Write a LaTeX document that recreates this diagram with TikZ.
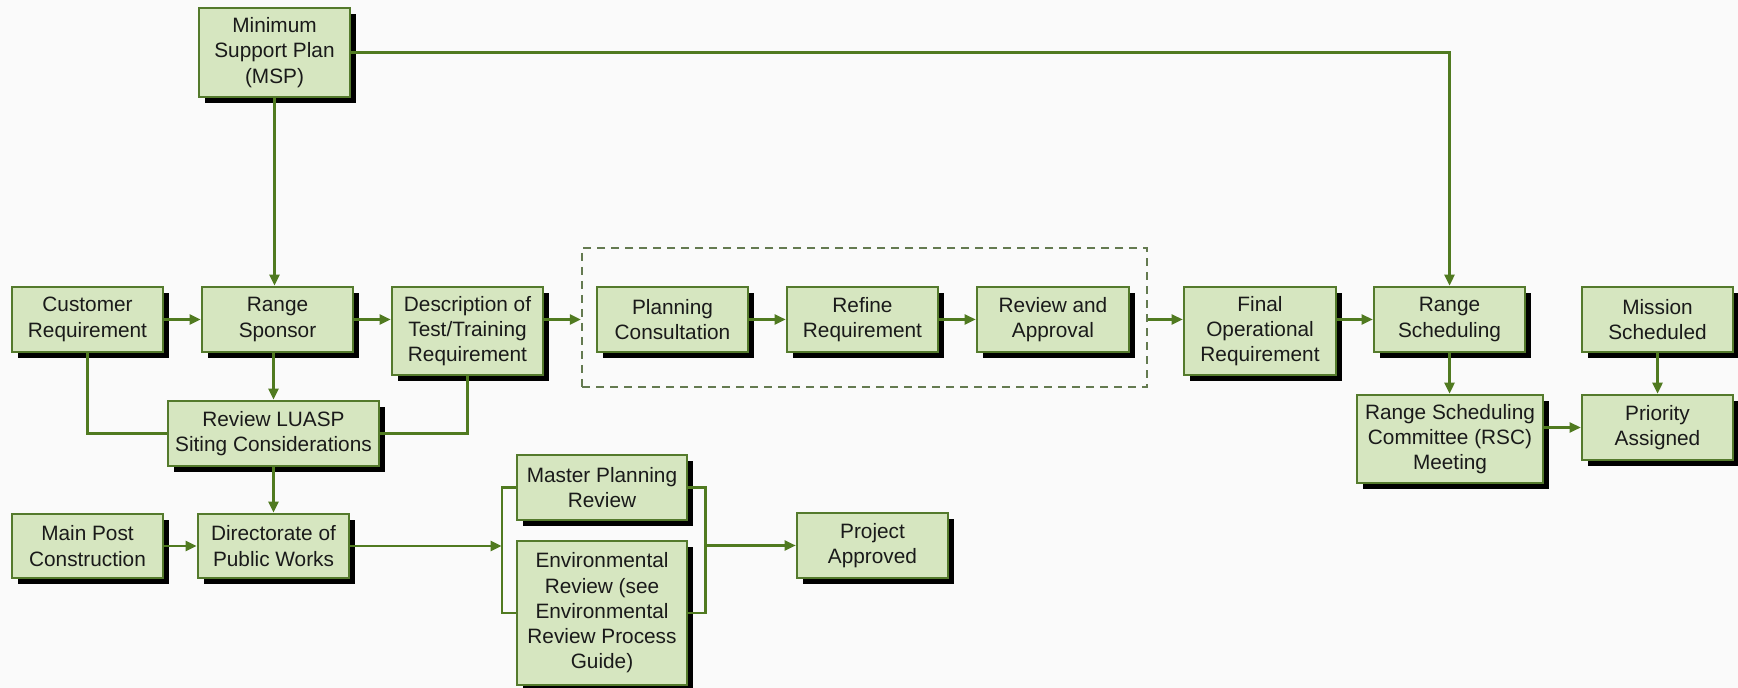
\documentclass[tikz,border=0pt]{standalone}
\usepackage{fontspec}
\setmainfont{Liberation Sans}
\usetikzlibrary{fit,shadows,calc,arrows.meta}
\definecolor{boxfill}{RGB}{214,230,192}
\definecolor{boxline}{RGB}{84,122,44}
\definecolor{wire}{RGB}{80,122,32}
\definecolor{dashline}{RGB}{100,122,80}
\definecolor{paper}{RGB}{250,250,250}
\definecolor{ink}{RGB}{26,26,26}
\tikzset{
  stepbox/.style={draw=boxline, line width=1.3pt, fill=boxfill, inner sep=0pt,
    align=center, text=ink, font=\fontsize{10.4}{12.6}\selectfont,
    drop shadow={shadow xshift=3pt, shadow yshift=-3pt, fill=black, opacity=1}},
  groupbox/.style={draw=dashline, line width=1.1pt, dash pattern=on 4pt off 3pt, inner sep=0pt},
  link/.style={draw=wire, line width=1.2pt},
  flow/.style={link, -{Triangle[length=5.5pt,width=5pt]}}
}
% a step box given by its corners in pixel units (y downwards)
\newcommand\stepnode[6]{%
  \pgfmathsetmacro\stepw{(#4-#2)*0.5}%
  \pgfmathsetmacro\steph{(#5-#3)*0.5}%
  \node[stepbox, minimum width=\stepw pt, minimum height=\steph pt]
    (#1) at ({(#2+#4)/2},{(#3+#5)/2}) {#6};}
\begin{document}
\begin{tikzpicture}[x=0.5pt, y=-0.5pt]
  % canvas
  \fill[paper] (0,0) rectangle (1738,688);
  \useasboundingbox (0,0) rectangle (1738,688);

  % grouping frame around the planning steps
  \node[groupbox, fit={(582,248) (1147,387)}] (grp) {};

  % process steps
  \stepnode{msp}{199}{8}{350}{97}{Minimum\\Support Plan\\(MSP)}
  \stepnode{cust}{12}{287}{163}{352}{Customer\\Requirement}
  \stepnode{rs}{202}{287}{353}{352}{Range\\Sponsor}
  \stepnode{desc}{392}{287}{543}{375}{Description of\\Test/Training\\Requirement}
  \stepnode{plan}{597}{287}{748}{352}{Planning\\Consultation}
  \stepnode{refine}{787}{287}{938}{352}{Refine\\Requirement}
  \stepnode{rev}{977}{287}{1129}{352}{Review and\\Approval}
  \stepnode{fin}{1184}{287}{1336}{375}{Final\\Operational\\Requirement}
  \stepnode{rsch}{1374}{287}{1525}{352}{Range\\Scheduling}
  \stepnode{miss}{1582}{287}{1733}{352}{Mission\\Scheduled}
  \stepnode{luasp}{168}{401}{379}{466}{Review LUASP\\Siting Considerations}
  \stepnode{rsc}{1357}{395}{1543}{483}{Range Scheduling\\Committee (RSC)\\Meeting}
  \stepnode{pri}{1582}{395}{1733}{460}{Priority\\Assigned}
  \stepnode{mpc}{12}{514}{163}{578}{Main Post\\Construction}
  \stepnode{dpw}{198}{514}{349}{578}{Directorate of\\Public Works}
  \stepnode{mpr}{517}{455}{687}{520}{Master Planning\\Review}
  \stepnode{env}{517}{541}{687}{685}{Environmental\\Review (see\\Environmental\\Review Process\\Guide)}
  \stepnode{prj}{797}{513}{948}{578}{Project\\Approved}

  % bracket ends around the two parallel reviews
  \coordinate (lbr) at ($(mpr.west)+(-14,0)$);
  \coordinate (rbr) at ($(mpr.east)+(17,0)$);

  % connectors
  \draw[flow] (msp.south) -- (msp.south |- rs.north);
  \draw[flow] (msp.east) -- (msp.east -| rsch.north) -- (rsch.north);
  \draw[flow] (cust) -- (rs);
  \draw[flow] (rs.east) -- (rs.east -| desc.west);
  \draw[flow] (desc.east |- plan.west) -- (grp.west |- plan.west);
  \draw[flow] (plan) -- (refine);
  \draw[flow] (refine) -- (rev);
  \draw[flow] (grp.east |- rev.east) -- (fin.west |- rev.east);
  \draw[flow] (fin.east |- rsch.west) -- (rsch.west);
  \draw[flow] (rsch.south) -- (rsch.south |- rsc.north);
  \draw[flow] (rsc.east |- pri.west) -- (pri.west);
  \draw[flow] (miss.south) -- (pri.north);
  \draw[link] (cust.south) |- (luasp.west);
  \draw[link] (desc.south) |- (luasp.east);
  \draw[flow] (rs.south -| luasp.north) -- (luasp.north);
  \draw[flow] (luasp.south) -- (dpw.north);
  \draw[flow] (mpc) -- (dpw);
  \draw[link] (mpr.west) -- (lbr) |- (env.west);
  \draw[link] (mpr.east) -- (rbr) |- (env.east);
  \draw[flow] (dpw.east) -- (dpw.east -| lbr);
  \draw[flow] (rbr |- prj.west) -- (prj.west);
\end{tikzpicture}
\end{document}
